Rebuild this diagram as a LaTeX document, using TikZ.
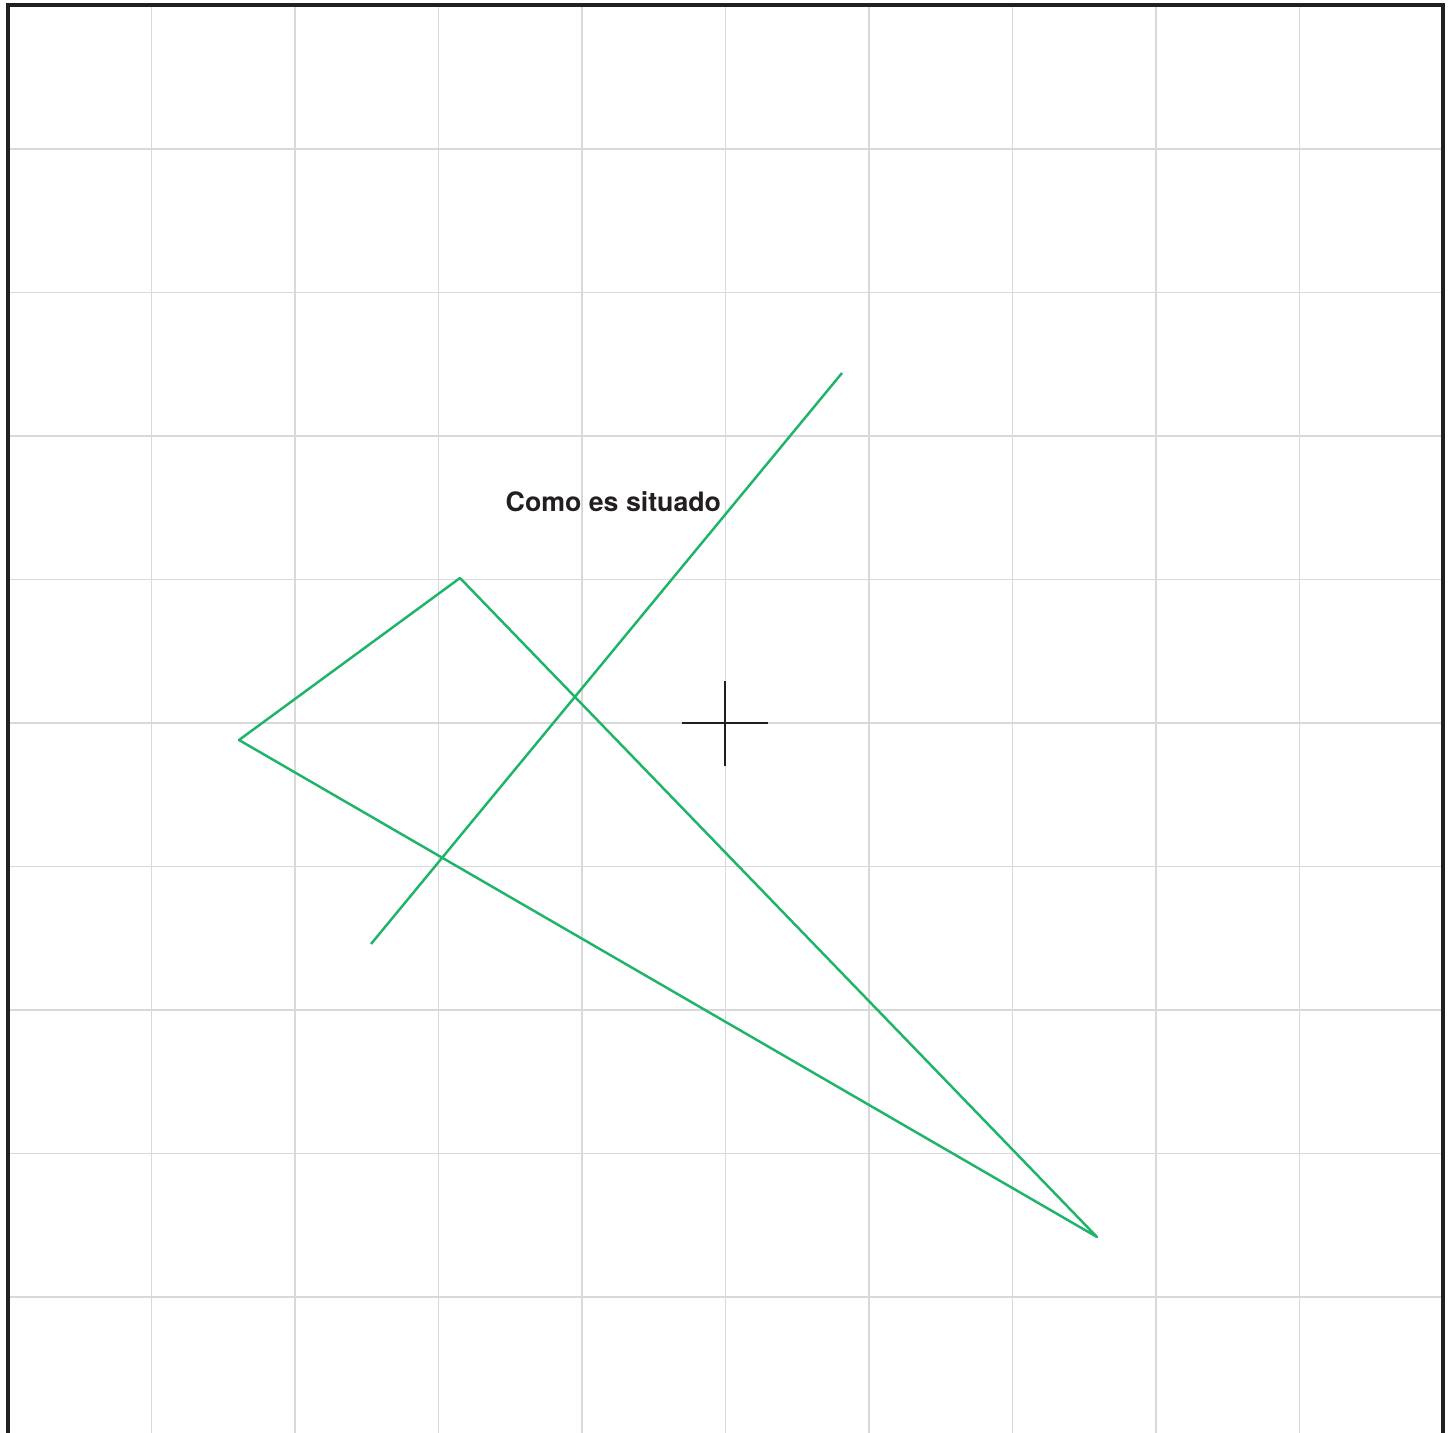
\documentclass[tikz,border=0pt]{standalone}
\usepackage{fontspec}
\setsansfont{TeX Gyre Heros}
\usepackage{tikz}
\usetikzlibrary{positioning, calc}
\definecolor{stGreen}{HTML}{1EB46A}
\definecolor{stGrid}{HTML}{D9D9D9}
\definecolor{stInk}{HTML}{231F20}
\tikzset{
  stgrid/.style={draw=stGrid, line width=0.45pt},
  stframe/.style={draw=stInk, line width=1pt},
  stline/.style={draw=stGreen, line width=0.7pt, line join=round},
  stcross/.style={draw=stInk, line width=0.8pt},
  stlabel/.style={font=\sffamily\bfseries\fontsize{7.6}{9}\selectfont, text=stInk, inner sep=0pt},
}

\begin{document}
\begin{tikzpicture}[x=0.01cm, y=-0.01cm]
  \useasboundingbox (0,0) rectangle (1454,1433);
  % grid
  \foreach \k in {1,...,9}{
    \draw[stgrid] ({8+143.5*\k},5) -- ({8+143.5*\k},1433);
    \draw[stgrid] (8,{5.5+143.5*\k}) -- (1443,{5.5+143.5*\k});
  }
  \draw[stframe] (8,1433) -- (8,5) -- (1443,5) -- (1443,1433);
  % points
  \coordinate (lineTop) at (842,373);
  \coordinate (lineBot) at (371,944);
  \coordinate (triTop) at (460,578);
  \coordinate (triLeft) at (239,740);
  \coordinate (triTip) at (1097,1237);
  \coordinate (center) at (725,723);
  \node[stlabel, anchor=base west](label) at (505,511){Como es situado};
  \draw[stline](lineTop)--(lineBot);
  \draw[stline](triTop)--(triLeft)--(triTip)--cycle;
  % centre mark
  \draw[stcross]($(center)+(-43,0)$)--($(center)+(43,0)$);
  \draw[stcross]($(center)+(0,-42)$)--($(center)+(0,43)$);
\end{tikzpicture}
\end{document}
